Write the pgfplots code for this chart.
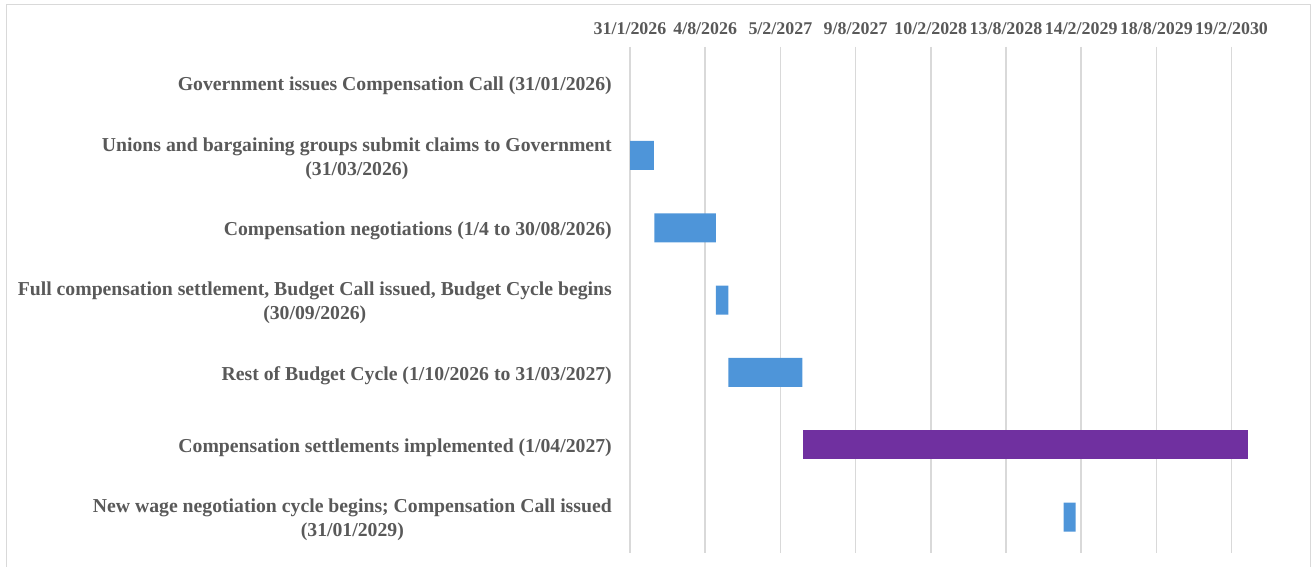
\documentclass[border=0pt]{standalone}
\usepackage{pgfplots}
\pgfplotsset{compat=1.18}
\usepackage{fontspec}
\setmainfont{Liberation Serif}
\definecolor{txt}{HTML}{595959}
\definecolor{barblue}{HTML}{4E95D9}
\definecolor{barpurple}{HTML}{7030A0}
\definecolor{gridc}{HTML}{D9D9D9}
\begin{document}
\begin{tikzpicture}
\begin{axis}[
  at={(630bp,520bp)}, anchor=north west,
  x=0.4065bp, y=72.33bp,
  xmin=0, xmax=1580, ymin=0.5, ymax=7.5, y dir=reverse,
  xbar stacked, bar width=29bp,
  axis line style={draw=none}, major tick style={draw=none},
  xmajorgrids, grid style={gridc, line width=1.5bp},
  xtick={0,185,370,555,740,925,1110,1295,1480},
  xticklabels={31/1/2026,4/8/2026,5/2/2027,9/8/2027,10/2/2028,13/8/2028,14/2/2029,18/8/2029,19/2/2030},
  xticklabel pos=upper,
  ytick={1,2,3,4,5,6,7},
  yticklabels={
    {Government issues Compensation Call (31/01/2026)},
    {Unions and bargaining groups submit claims to Government\\(31/03/2026)},
    {Compensation negotiations (1/4 to 30/08/2026)},
    {Full compensation settlement, Budget Call issued, Budget Cycle begins\\(30/09/2026)},
    {Rest of Budget Cycle (1/10/2026 to 31/03/2027)},
    {Compensation settlements implemented (1/04/2027)},
    {New wage negotiation cycle begins; Compensation Call issued\\(31/01/2029)}},
  ticklabel style={text=txt},
  yticklabel style={font=\fontsize{19.8}{24}\selectfont\bfseries, align=center, inner sep=0pt, xshift=-18bp, yshift=-3bp},
  xticklabel style={font=\fontsize{18}{22}\selectfont\bfseries, inner sep=0pt, yshift=12bp},
  clip=false,
]
\addplot[draw=none, fill=none] coordinates {(0,1) (0,2) (60,3) (211,4) (242,5) (425,6) (1067,7)};
\addplot[draw=none, fill=barblue] coordinates {(0,1) (59,2) (151,3) (31,4) (182,5) (0,6) (29,7)};
\addplot[draw=none, fill=barpurple] coordinates {(0,1) (0,2) (0,3) (0,4) (0,5) (1096,6) (0,7)};
\end{axis}
\draw[gridc, line width=1bp] (6bp,-10bp) rectangle (1310bp,562bp);
\pgfresetboundingbox
\useasboundingbox (0,0) rectangle (1315bp,567bp);
\end{tikzpicture}
\end{document}
